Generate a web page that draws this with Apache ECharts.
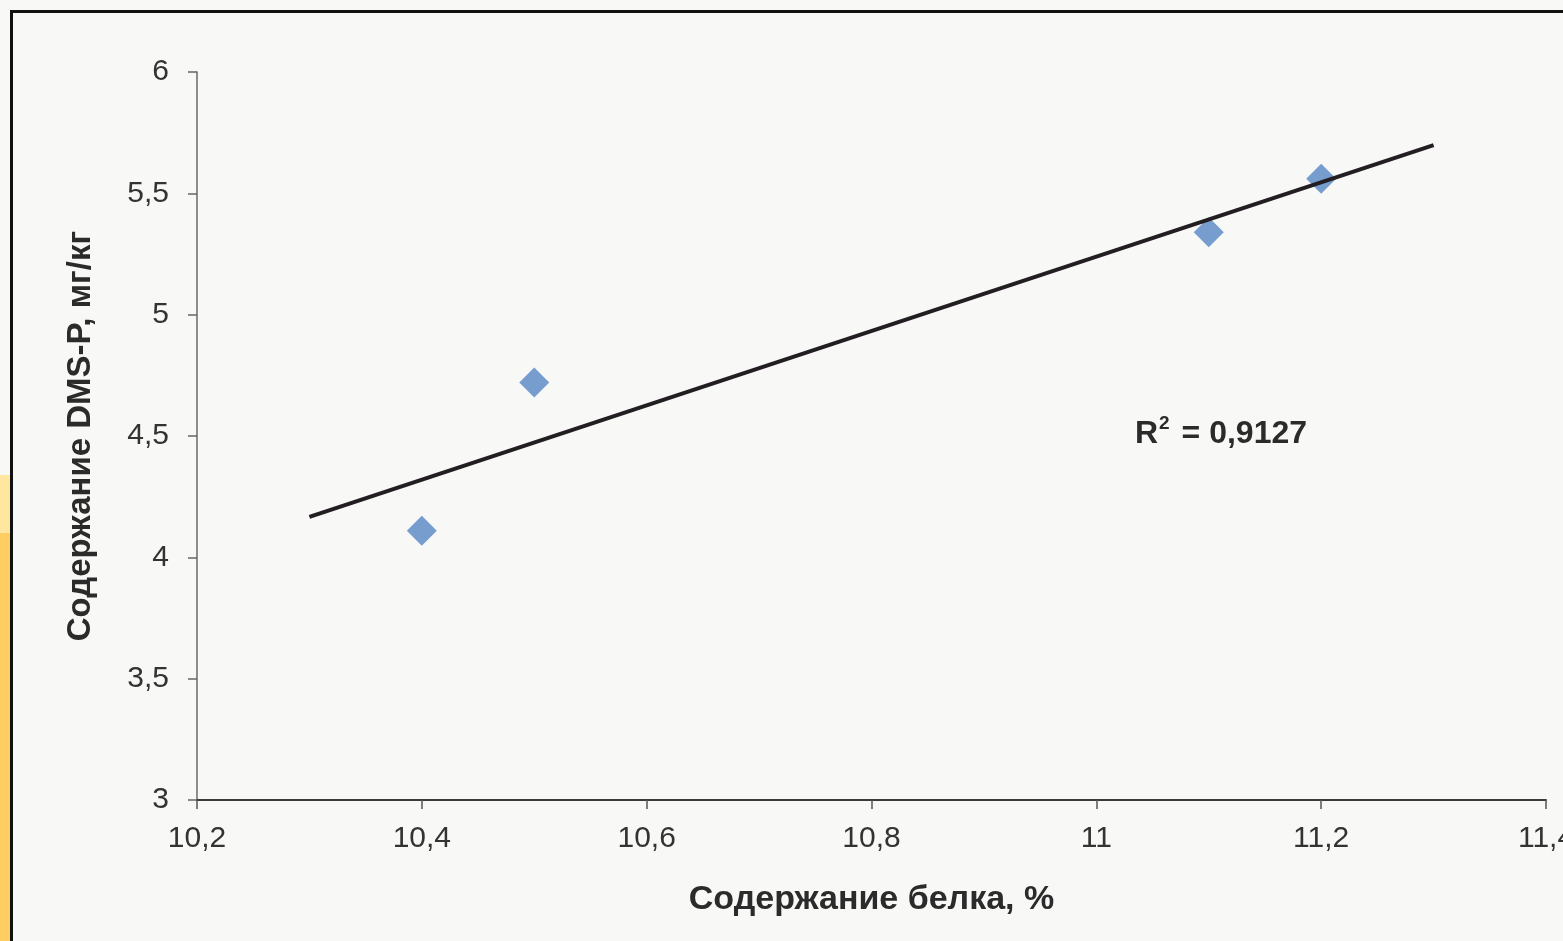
<!DOCTYPE html>
<html>
<head>
<meta charset="utf-8">
<script src="https://cdn.jsdelivr.net/npm/echarts@6/dist/echarts.min.js"></script>
<style>
  html, body { margin: 0; padding: 0; background: #f8f8f7; }
  #chart { width: 1563px; height: 941px; }
</style>
</head>
<body>
<div id="chart"></div>
<script>
  // measured points: protein content (%) vs DMS-P (mg/kg)
  const proteinX = [10.4, 10.5, 11.1, 11.2];
  const dmspY = [4.11, 4.72, 5.34, 5.56];
  // linear trend drawn from 10.3 to 11.3
  const trendRange = [10.3, 11.3];
  const r2Text = '0,9127';

  const FONT = '"Liberation Sans", Arial, sans-serif';

  function comma(v) {
    return String(parseFloat(v.toFixed(2))).replace('.', ',');
  }

  // least squares fit of the points
  function linFit(xs, ys) {
    const n = xs.length;
    const mx = xs.reduce((a, b) => a + b, 0) / n;
    const my = ys.reduce((a, b) => a + b, 0) / n;
    let sxy = 0, sxx = 0;
    for (let i = 0; i < n; i++) {
      sxy += (xs[i] - mx) * (ys[i] - my);
      sxx += (xs[i] - mx) * (xs[i] - mx);
    }
    const k = sxy / sxx;
    return x => my + k * (x - mx);
  }

  const fit = linFit(proteinX, dmspY);
  const trendData = trendRange.map(x => [x, fit(x)]);
  const points = proteinX.map((x, i) => [x, dmspY[i]]);

  const chart = echarts.init(document.getElementById('chart'), null, { renderer: 'canvas' });

  chart.setOption({
    backgroundColor: '#f8f8f7',
    animation: false,
    textStyle: { fontFamily: FONT },
    grid: { left: 197, right: 17, top: 72, bottom: 141, containLabel: false, outerBoundsMode: 'none' },
    xAxis: {
      type: 'value',
      min: 10.2,
      max: 11.4,
      interval: 0.2,
      name: 'Содержание белка, %',
      nameLocation: 'middle',
      nameGap: 83,
      nameTextStyle: { fontSize: 34, fontWeight: 'bold', color: '#2b2b2b', fontFamily: FONT },
      axisLine: { lineStyle: { color: '#3a3a3a', width: 2 } },
      axisTick: { show: true, length: 9, lineStyle: { color: '#555', width: 1.5 } },
      axisLabel: { fontSize: 30, color: '#333', margin: 24, formatter: comma, fontFamily: FONT },
      splitLine: { show: false }
    },
    yAxis: {
      type: 'value',
      min: 3,
      max: 6,
      interval: 0.5,
      name: 'Содержание DMS-P, мг/кг',
      nameLocation: 'middle',
      nameGap: 100,
      nameRotate: 90,
      nameTextStyle: { fontSize: 33, fontWeight: 'bold', color: '#2b2b2b', fontFamily: FONT },
      axisLine: { show: true, lineStyle: { color: '#6a6a6a', width: 1.5 } },
      axisTick: { show: true, length: 9, lineStyle: { color: '#666', width: 1.5 } },
      axisLabel: { fontSize: 30, color: '#333', margin: 28, formatter: comma, fontFamily: FONT },
      splitLine: { show: false }
    },
    series: [
      {
        type: 'line',
        data: trendData,
        symbol: 'none',
        lineStyle: { color: '#221e22', width: 4 },
        z: 3
      },
      {
        type: 'scatter',
        data: points,
        symbol: 'diamond',
        symbolSize: [30, 30],
        itemStyle: { color: '#7098cc', opacity: 0.95 },
        z: 2
      }
    ],
    graphic: [
      // orange scan edge at the left
      { type: 'rect', left: 0, top: 475, shape: { width: 10, height: 58 }, style: { fill: '#ffe7a0' }, z: 100 },
      { type: 'rect', left: 0, top: 533, shape: { width: 10, height: 408 }, style: { fill: '#ffcd62' }, z: 100 },
      // black frame
      {
        type: 'rect', left: 10, top: 10,
        shape: { width: 1600, height: 1000 },
        style: { fill: 'transparent', stroke: '#111', lineWidth: 3 },
        z: 100
      },
      {
        type: 'text', left: 1135, top: 414, z: 50,
        style: {
          text: '{a|R}{s|2}{a| = ' + r2Text + '}',
          rich: {
            a: { fontSize: 32, fontWeight: 'bold', fill: '#2b2b2b', fontFamily: FONT, verticalAlign: 'bottom', lineHeight: 36 },
            s: { fontSize: 19, fontWeight: 'bold', fill: '#2b2b2b', fontFamily: FONT, verticalAlign: 'top', lineHeight: 36, padding: [0, 3, 14, 1] }
          }
        }
      }
    ]
  });

  window.addEventListener('resize', () => chart.resize());
</script>
</body>
</html>
